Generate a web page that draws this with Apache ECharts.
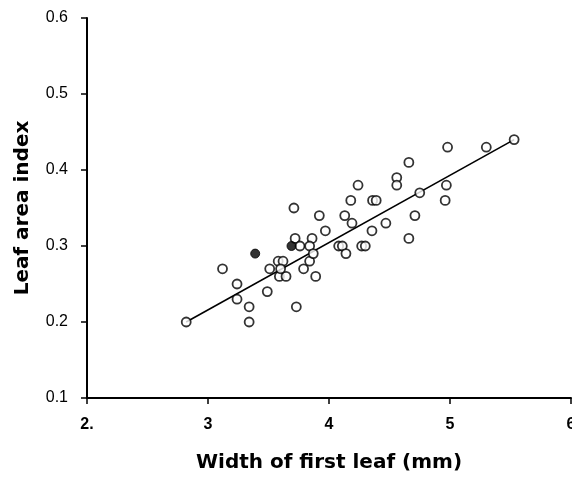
<!DOCTYPE html>
<html>
<head>
<meta charset="utf-8">
<script src="https://cdn.jsdelivr.net/npm/echarts@6/dist/echarts.min.js"></script>
<style>html,body{margin:0;padding:0;background:#fff}#c{width:572px;height:479px}</style>
</head>
<body>
<div id="c"></div>
<script>
// Open circles
var openX = [2.82, 3.12, 3.24, 3.24, 3.34, 3.34, 3.49, 3.51, 3.58, 3.62, 3.59, 3.645, 3.60,
             3.71, 3.72, 3.76, 3.73, 3.79, 3.84, 3.86, 3.84, 3.87, 3.89, 3.92, 3.97,
             4.08, 4.11, 4.14, 4.13, 4.18, 4.19, 4.24, 4.27, 4.30, 4.355, 4.36, 4.39,
             4.47, 4.56, 4.56, 4.66, 4.71, 4.75, 4.66, 4.98, 4.97, 4.96, 5.30, 5.53];
var openY = [0.20, 0.27, 0.25, 0.23, 0.22, 0.20, 0.24, 0.27, 0.28, 0.28, 0.26, 0.26, 0.27,
             0.35, 0.31, 0.30, 0.22, 0.27, 0.28, 0.31, 0.30, 0.29, 0.26, 0.34, 0.32,
             0.30, 0.30, 0.29, 0.34, 0.36, 0.33, 0.38, 0.30, 0.30, 0.32, 0.36, 0.36,
             0.33, 0.39, 0.38, 0.41, 0.34, 0.37, 0.31, 0.43, 0.38, 0.36, 0.43, 0.44];
// Filled circles
var filledX = [3.39, 3.69];
var filledY = [0.29, 0.30];
// Regression line end points
var lineX = [2.82, 5.53];
var lineY = [0.20, 0.44];
// Axis ticks
var xTicks = [2, 3, 4, 5, 6];
var xTickLabels = ['2.', '3', '4', '5', '6'];
var yTicks = [0.1, 0.2, 0.3, 0.4, 0.5, 0.6];
var yTickLabels = ['0.1', '0.2', '0.3', '0.4', '0.5', '0.6'];

function zip(a, b) { return a.map(function (v, i) { return [v, b[i]]; }); }

var chart = echarts.init(document.getElementById('c'), null, {renderer: 'canvas'});
var font = 'Liberation Sans';
var nameFont = 'DejaVu Sans';
chart.setOption({
  animation: false,
  backgroundColor: '#fff',
  grid: {left: 87, right: 1, top: 18, bottom: 81, containLabel: false, outerBoundsMode: 'none'},
  xAxis: {
    type: 'value', min: 2, max: 6, interval: 1,
    name: 'Width of first leaf (mm)', nameLocation: 'middle', nameGap: 55,
    nameTextStyle: {fontFamily: nameFont, fontSize: 20, fontWeight: 'bold', color: '#000'},
    axisLine: {lineStyle: {color: '#000', width: 2}},
    axisTick: {show: true, length: 6, lineStyle: {color: '#000', width: 1.5}},
    axisLabel: {
      margin: 19, fontFamily: font, fontSize: 16, fontWeight: 'bold', color: '#000',
      formatter: function (v) { var i = xTicks.indexOf(v); return i >= 0 ? xTickLabels[i] : ''; }
    },
    splitLine: {show: false}
  },
  yAxis: {
    type: 'value', min: 0.1, max: 0.6, interval: 0.1,
    name: 'Leaf area index', nameLocation: 'middle', nameGap: 54, nameRotate: 90,
    nameTextStyle: {fontFamily: nameFont, fontSize: 20, fontWeight: 'bold', color: '#000'},
    axisLine: {lineStyle: {color: '#000', width: 2}},
    axisTick: {show: true, length: 6, lineStyle: {color: '#000', width: 1.5}},
    axisLabel: {
      margin: 19, fontFamily: font, fontSize: 16, color: '#000',
      formatter: function (v) {
        for (var i = 0; i < yTicks.length; i++) if (Math.abs(yTicks[i] - v) < 1e-6) return yTickLabels[i];
        return '';
      }
    },
    splitLine: {show: false}
  },
  series: [
    {
      type: 'line', data: zip(lineX, lineY), symbol: 'none', z: 1,
      lineStyle: {color: '#000', width: 1.6}
    },
    {
      type: 'scatter', data: zip(openX, openY), symbol: 'circle', symbolSize: 9, z: 3,
      itemStyle: {color: '#fff', borderColor: '#000', borderWidth: 1.8}
    },
    {
      type: 'scatter', data: zip(filledX, filledY), symbol: 'circle', symbolSize: 9, z: 4,
      itemStyle: {color: '#000', borderColor: '#000', borderWidth: 1}
    }
  ]
});
</script>
</body>
</html>
